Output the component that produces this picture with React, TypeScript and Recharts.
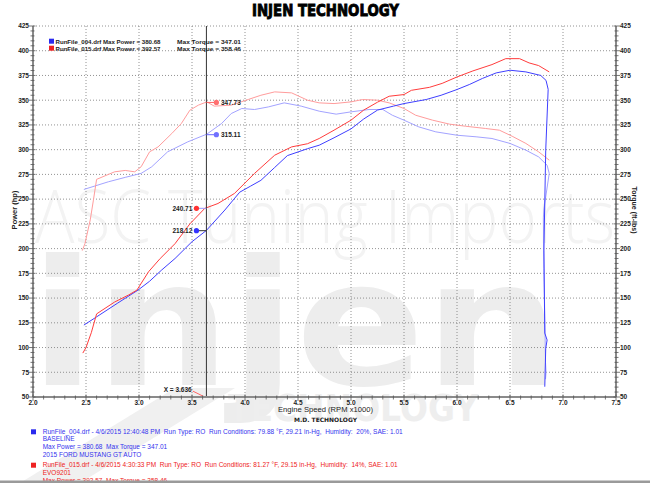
import React from 'react';
import { LineChart, Line, XAxis, YAxis, CartesianGrid, ReferenceLine, ReferenceDot } from 'recharts';

// ---------- data ----------
const bluePowerRpm = [2.48, 2.6, 2.8, 2.99, 3.1, 3.21, 3.34, 3.5, 3.636, 3.81, 3.95, 4.05, 4.15, 4.28, 4.4, 4.59, 4.7, 4.84, 5.0, 5.12, 5.25, 5.4, 5.5, 5.71, 5.85, 6.0, 6.12, 6.24, 6.37, 6.5, 6.65, 6.79, 6.84, 6.86, 6.837, 6.82, 6.828, 6.85, 6.837, 6.828];
const bluePowerHp = [122.7, 131, 145, 158, 167, 178, 190, 207, 218.4, 239, 257, 263, 269, 282, 294, 301, 304.5, 312, 321, 331, 340, 344, 346.6, 350.7, 355, 360.8, 366, 372, 377.6, 380.3, 378.6, 375, 370, 361, 299.5, 198.5, 114.6, 107.6, 99, 60.4];

const redPowerRpm = [2.47, 2.5, 2.55, 2.6, 2.77, 2.9, 2.98, 3.09, 3.2, 3.34, 3.48, 3.62, 3.745, 3.9, 4.09, 4.28, 4.44, 4.59, 4.7, 4.84, 5.0, 5.12, 5.25, 5.36, 5.5, 5.57, 5.74, 5.86, 6.0, 6.15, 6.33, 6.46, 6.59, 6.68, 6.77, 6.87];
const redPowerHp = [94.4, 100, 115, 134, 146, 153, 158, 176.6, 190, 205, 225, 240.6, 245.6, 255.7, 276, 294.4, 302.8, 306, 311.3, 319.7, 329.8, 340, 348, 354, 355.7, 360, 363, 367, 373.5, 379.6, 386, 392, 392, 387.7, 385, 378.6];

const blueTorqueRpm = [2.48, 2.71, 2.87, 3.02, 3.12, 3.27, 3.46, 3.64, 3.78, 3.87, 3.97, 4.09, 4.22, 4.37, 4.53, 4.7, 4.86, 5.0, 5.17, 5.3, 5.39, 5.5, 5.64, 5.8, 6.0, 6.18, 6.33, 6.5, 6.65, 6.77, 6.85, 6.87, 6.82, 6.815, 6.82, 6.83, 6.835, 6.84, 6.835];
const blueTorqueLbft = [259.8, 267.5, 272, 276, 282.7, 297.8, 307.9, 315.7, 326.5, 336.5, 341.6, 340.6, 343.2, 347.3, 344, 338.9, 335.9, 338.2, 340.6, 340.6, 334.8, 329.8, 323, 318, 314.6, 313, 311.3, 306.3, 299.5, 292.7, 284.3, 276, 240, 231, 180, 120, 85, 75, 68];

const redTorqueRpm = [2.465, 2.49, 2.54, 2.57, 2.6, 2.77, 2.87, 2.96, 3.02, 3.1, 3.18, 3.31, 3.4, 3.48, 3.56, 3.64, 3.71, 3.87, 4.03, 4.15, 4.28, 4.44, 4.59, 4.7, 4.84, 5.0, 5.11, 5.25, 5.36, 5.5, 5.61, 5.77, 5.93, 6.08, 6.27, 6.4, 6.52, 6.65, 6.77, 6.87];
const redTorqueLbft = [198, 205, 229, 249, 270, 277.6, 279, 277.6, 282.7, 297.8, 302.8, 316.4, 326.5, 339.9, 345, 348.3, 344, 345, 350.7, 355, 358.4, 357.4, 350, 347.3, 346.6, 348.3, 350.7, 350, 347.3, 341.6, 334.8, 329.8, 325.8, 323.7, 321.4, 319.7, 313.6, 306.3, 297.8, 289.4];

const cursorRpm = 3.636;
const cursorPower = [218.12, 240.71]; // blue, red
const cursorTorque = [315.11, 347.73]; // blue, red

const xMajorTicks = [2.0, 2.5, 3.0, 3.5, 4.0, 4.5, 5.0, 5.5, 6.0, 6.5, 7.0, 7.5];
const yMajorTicks = [50, 75, 100, 125, 150, 175, 200, 225, 250, 275, 300, 325, 350, 375, 400, 425];
const xAllTicks = Array.from({ length: 56 }, (_, i) => (20 + i) / 10);
const yAllTicks = Array.from({ length: 76 }, (_, i) => 50 + i * 5);

const toPts = (xs: number[], ys: number[]) => xs.map((x, i) => ({ x, y: ys[i] }));
const bluePower = toPts(bluePowerRpm, bluePowerHp);
const redPower = toPts(redPowerRpm, redPowerHp);
const blueTorque = toPts(blueTorqueRpm, blueTorqueLbft);
const redTorque = toPts(redTorqueRpm, redTorqueLbft);

// ---------- styles ----------
const BLUE = '#3f3fff';
const RED = '#ff3c3c';
const LBLUE = '#a3a3ff';
const LRED = '#ff9c9c';
const TM = 3;
const FONT = '"Liberation Sans", Arial, sans-serif';
const tickText = { fontSize: 6.5, fontWeight: 700, fill: '#222', fontFamily: FONT } as const;

const LeftTick = (p: any) => {
  const { x, y, payload } = p;
  const v = payload.value;
  const major = v % 25 === 0;
  const ax = x + TM;
  return (
    <g>
      <line x1={ax - (major ? 4 : 2.5)} x2={ax + (major ? 2.5 : 1.5)} y1={y} y2={y} stroke="#555" strokeWidth={0.8} />
      {major && <text x={x - 1} y={y + 2.3} textAnchor="end" {...tickText}>{v}</text>}
    </g>
  );
};
const RightTick = (p: any) => {
  const { x, y, payload } = p;
  const v = payload.value;
  const major = v % 25 === 0;
  const ax = x - TM;
  return (
    <g>
      <line x1={ax - (major ? 2.5 : 1.5)} x2={ax + (major ? 4 : 2.5)} y1={y} y2={y} stroke="#555" strokeWidth={0.8} />
      {major && <text x={x + 1} y={y + 2.3} textAnchor="start" {...tickText}>{v}</text>}
    </g>
  );
};
const BottomTick = (p: any) => {
  const { x, y, payload } = p;
  const v = payload.value;
  const major = Math.round(v * 10) % 5 === 0;
  const ay = y - TM;
  return (
    <g>
      <line x1={x} x2={x} y1={ay - (major ? 2.5 : 1.5)} y2={ay + (major ? 4 : 2.5)} stroke="#555" strokeWidth={0.8} />
      {major && <text x={x} y={ay + 8} textAnchor="middle" {...tickText}>{v.toFixed(1)}</text>}
    </g>
  );
};

const labelStyle = { fontSize: 6.5, fontWeight: 700, fill: '#222', fontFamily: FONT };

export default function App() {
  const pre = { whiteSpace: 'pre' } as const;
  return (
    <div style={{ position: 'absolute', left: 0, top: 0, width: 650, height: 483, background: '#fff', overflow: 'hidden' }}>
      {/* watermark */}
      <svg width={650} height={483} style={{ position: 'absolute', left: 0, top: 0 }}>
        <text x={35} y={243} fontSize={74} fontFamily='"Open Sans", sans-serif' fontWeight={300} fill="#f3f3f3" textLength={580} lengthAdjust="spacingAndGlyphs">ASC Tuning Imports</text>
        <text x={30} y={385} fontSize={175} fontFamily='"DejaVu Sans", sans-serif' fontWeight={700} fill="#ededed" textLength={530} lengthAdjust="spacingAndGlyphs">injen</text>
        <polygon points="20,483 80,483 235,388 175,388" fill="#f0f0f0" />
        <text x={228} y={421} fontSize={38} fontFamily='"DejaVu Sans", sans-serif' fontWeight={700} fill="#eeeeee" textLength={250} lengthAdjust="spacingAndGlyphs">TECHNOLOGY</text>
      </svg>

      <div style={{ position: 'absolute', left: 0, top: 0 }}>
        <LineChart width={650} height={483} margin={{ top: 26, right: 0, left: 0, bottom: 72 }}>
          <CartesianGrid yAxisId="left" stroke="#777" strokeDasharray="1 2" strokeWidth={0.8} horizontalValues={yMajorTicks} verticalValues={xMajorTicks} />
          <XAxis type="number" dataKey="x" domain={[2, 7.5]} ticks={xAllTicks} interval={0} tickSize={0} tickMargin={TM} height={14} tick={<BottomTick />} tickLine={false} axisLine={{ stroke: '#8a8a8a', strokeWidth: 2 }} allowDataOverflow />
          <YAxis yAxisId="left" type="number" domain={[50, 425]} ticks={yAllTicks} interval={0} tickSize={0} tickMargin={TM} width={33} tick={<LeftTick />} tickLine={false} axisLine={{ stroke: '#8a8a8a', strokeWidth: 2 }} allowDataOverflow />
          <YAxis yAxisId="right" orientation="right" type="number" domain={[50, 425]} ticks={yAllTicks} interval={0} tickSize={0} tickMargin={TM} width={34} tick={<RightTick />} tickLine={false} axisLine={{ stroke: '#8a8a8a', strokeWidth: 2 }} allowDataOverflow />

          <Line yAxisId="right" data={blueTorque} dataKey="y" stroke={LBLUE} strokeWidth={1} dot={false} isAnimationActive={false} />
          <Line yAxisId="right" data={redTorque} dataKey="y" stroke={LRED} strokeWidth={1} dot={false} isAnimationActive={false} />
          <Line yAxisId="left" data={bluePower} dataKey="y" stroke={BLUE} strokeWidth={1} dot={false} isAnimationActive={false} />
          <Line yAxisId="left" data={redPower} dataKey="y" stroke={RED} strokeWidth={1} dot={false} isAnimationActive={false} />

          <ReferenceLine yAxisId="left" x={cursorRpm} stroke="#333" strokeWidth={1} />

          <ReferenceLine yAxisId="right" segment={[{ x: cursorRpm, y: cursorTorque[1] }, { x: 3.73, y: cursorTorque[1] }]} stroke="#ff6666" />
          <ReferenceLine yAxisId="right" segment={[{ x: cursorRpm, y: cursorTorque[0] }, { x: 3.73, y: cursorTorque[0] }]} stroke="#6666ff" />
          <ReferenceLine yAxisId="left" segment={[{ x: 3.542, y: cursorPower[1] }, { x: cursorRpm, y: cursorPower[1] }]} stroke="#9999ff" />
          <ReferenceLine yAxisId="left" segment={[{ x: 3.542, y: cursorPower[0] }, { x: cursorRpm, y: cursorPower[0] }]} stroke="#333" />
          <ReferenceLine yAxisId="left" segment={[{ x: 3.507, y: 56 }, { x: 3.62, y: 50 }]} stroke="#ff6666" />

          <ReferenceDot yAxisId="right" x={3.73} y={cursorTorque[1]} r={2.6} fill="#ff7070" stroke="none" label={{ value: cursorTorque[1].toFixed(2), position: 'right', offset: 2, ...labelStyle }} />
          <ReferenceDot yAxisId="right" x={3.73} y={cursorTorque[0]} r={2.6} fill="#7070ff" stroke="none" label={{ value: cursorTorque[0].toFixed(2), position: 'right', offset: 2, ...labelStyle }} />
          <ReferenceDot yAxisId="left" x={3.542} y={cursorPower[1]} r={2.6} fill="#ff3333" stroke="none" label={{ value: cursorPower[1].toFixed(2), position: 'left', offset: 1.5, ...labelStyle }} />
          <ReferenceDot yAxisId="left" x={3.542} y={cursorPower[0]} r={2.6} fill="#3333ff" stroke="none" label={{ value: cursorPower[0].toFixed(2), position: 'left', offset: 1.5, ...labelStyle }} />
          <ReferenceDot yAxisId="left" x={3.507} y={57.5} r={0.01} fill="none" stroke="none" label={{ value: 'X = ' + cursorRpm.toFixed(3), position: 'left', offset: 1, ...labelStyle }} />
        </LineChart>
      </div>

      {/* text overlay */}
      <svg width={650} height={483} style={{ position: 'absolute', left: 0, top: 0, pointerEvents: 'none' }}>
        <text x={252} y={16} fontSize={16} fontFamily='"DejaVu Sans", sans-serif' fontWeight={700} fill="#000" stroke="#000" strokeWidth={0.9} textLength={147} lengthAdjust="spacingAndGlyphs">INJEN TECHNOLOGY</text>

        <rect x={49} y={38.7} width={5} height={5} fill="#2a2aee" />
        <rect x={49} y={45.7} width={5} height={5} fill="#ee2222" />
        <text x={55.5} y={43.9} fontSize={6} fontWeight={700} fill="#222" fontFamily={FONT} textLength={105} lengthAdjust="spacingAndGlyphs">RunFile_004.drf Max Power = 380.68</text>
        <text x={177} y={43.9} fontSize={6} fontWeight={700} fill="#222" fontFamily={FONT} textLength={64} lengthAdjust="spacingAndGlyphs">Max Torque = 347.01</text>
        <text x={55.5} y={50.9} fontSize={6} fontWeight={700} fill="#222" fontFamily={FONT} textLength={105} lengthAdjust="spacingAndGlyphs">RunFile_015.drf Max Power = 392.57</text>
        <text x={177} y={50.9} fontSize={6} fontWeight={700} fill="#222" fontFamily={FONT} textLength={64} lengthAdjust="spacingAndGlyphs">Max Torque = 358.46</text>

        <text transform="translate(16.5,210) rotate(-90)" textAnchor="middle" fontSize={7.5} fontWeight={700} fill="#222" fontFamily={FONT}>Power (hp)</text>
        <text transform="translate(632,210) rotate(90)" textAnchor="middle" fontSize={7} fontWeight={700} fill="#222" fontFamily={FONT}>Torque (ft-lbs)</text>

        <text x={325.5} y={411.5} textAnchor="middle" fontSize={7.5} fill="#222" fontFamily={FONT} textLength={95} lengthAdjust="spacingAndGlyphs">Engine Speed (RPM x1000)</text>
        <text x={325.5} y={421.5} textAnchor="middle" fontSize={6} fontWeight={700} fill="#222" fontFamily='"DejaVu Sans", sans-serif' textLength={63} lengthAdjust="spacingAndGlyphs">M.D. TECHNOLOGY</text>

        <rect x={31} y={429.3} width={5} height={5} fill="#2a2aee" />
        <text x={42.7} y={433.5} fontSize={6.5} fill="#3333ee" fontFamily={FONT} style={pre} textLength={360} lengthAdjust="spacing">RunFile_004.drf - 4/6/2015 12:40:48 PM  Run Type: RO  Run Conditions: 79.88 °F, 29.21 in-Hg,  Humidity:  20%, SAE: 1.01</text>
        <text x={42.7} y={441.2} fontSize={6.5} fill="#3333ee" fontFamily={FONT}>BASELINE</text>
        <text x={42.7} y={449.2} fontSize={6.5} fill="#3333ee" fontFamily={FONT} style={pre}>Max Power = 380.68  Max Torque = 347.01</text>
        <text x={42.7} y={456.8} fontSize={6.5} fill="#3333ee" fontFamily={FONT}>2015 FORD MUSTANG GT AUTO</text>

        <rect x={31} y={462.7} width={5} height={5} fill="#ee2222" />
        <text x={42.7} y={466.8} fontSize={6.5} fill="#ee2222" fontFamily={FONT} style={pre} textLength={355} lengthAdjust="spacing">RunFile_015.drf - 4/6/2015 4:30:33 PM  Run Type: RO  Run Conditions: 81.27 °F, 29.15 in-Hg,  Humidity:  14%, SAE: 1.01</text>
        <text x={42.7} y={474.8} fontSize={6.5} fill="#ee2222" fontFamily={FONT}>EVO9201</text>
        <text x={42.7} y={482.5} fontSize={6.5} fill="#ee2222" fontFamily={FONT} style={pre}>Max Power = 392.57  Max Torque = 358.46</text>
        <rect x={0} y={480.5} width={650} height={2.5} fill="#9a9a9a" />
      </svg>
    </div>
  );
}
